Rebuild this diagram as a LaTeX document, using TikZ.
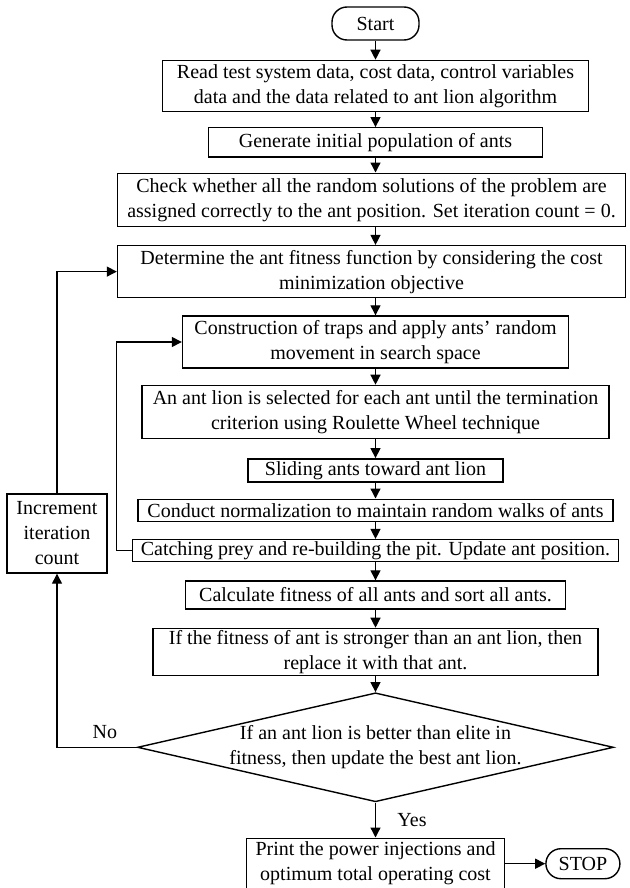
\documentclass[tikz,border=0pt]{standalone}
\usepackage{fontspec}
\setmainfont{Liberation Serif}
\usepackage{tikz}
\usetikzlibrary{shapes.geometric, arrows.meta, positioning}

\begin{document}
\begin{tikzpicture}[x=1pt, y=1pt,
    box/.style={rectangle, draw=black, line width=1.4pt, fill=white, inner xsep=2pt, inner ysep=1pt, align=center, font=\fontsize{20}{25}\selectfont},
    terminal/.style={box, rounded corners=15pt},
    decision/.style={diamond, draw=black, line width=1.4pt, fill=white, inner sep=0pt, minimum width=476pt, minimum height=109pt},
    tag/.style={font=\fontsize{20}{25}\selectfont, align=center},
    arrow/.style={-{Triangle[length=10pt, width=10pt]}, line width=1.3pt, black}
]
\useasboundingbox (0,0) rectangle (629,-888);

% Main column
\node (start)    [terminal, minimum width=87pt, minimum height=33pt] at (375.5,-23.5) {Start};
\node (readdata) [box, below=19pt of start, minimum width=426pt, minimum height=51pt] {Read test system data, cost data, control variables\\data and the data related to ant lion algorithm};
\node (initpop)  [box, below=15pt of readdata, minimum width=334pt, minimum height=29pt] {Generate initial population of ants};
\node (check)    [box, below=15pt of initpop, xshift=-4pt, minimum width=508pt, minimum height=53pt] {Check whether all the random solutions of the problem are\\assigned correctly to the ant position. Set iteration count = 0.};
\node (fitness)  [box, below=18pt of check, minimum width=508pt, minimum height=52pt] {Determine the ant fitness function by considering the cost\\minimization objective};
\node (traps)    [box, below=17pt of fitness, xshift=4pt, minimum width=386pt, minimum height=52pt] {Construction of traps and apply ants' random\\movement in search space};
\node (select)   [box, below=16pt of traps, minimum width=467pt, minimum height=53pt] {An ant lion is selected for each ant until the termination\\criterion using Roulette Wheel technique};
\node (slide)    [box, below=19pt of select, minimum width=255pt, minimum height=23pt] {Sliding ants toward ant lion};
\node (normal)   [box, below=16pt of slide, minimum width=475pt, minimum height=22pt] {Conduct normalization to maintain random walks of ants};
\node (catch)    [box, below=17pt of normal, minimum width=486pt, minimum height=22pt] {Catching prey and re-building the pit. Update ant position.};
\node (calcfit)  [box, below=18pt of catch, minimum width=380pt, minimum height=28pt] {Calculate fitness of all ants and sort all ants.};
\node (replace)  [box, below=18pt of calcfit, minimum width=445pt, minimum height=47pt] {If the fitness of ant is stronger than an ant lion, then\\replace it with that ant.};
\node (decide)   [decision, below=16pt of replace, label={[tag]center:{If an ant lion is better than elite in\\fitness, then update the best ant lion.}}] {};
\node (printres) [box, below=35pt of decide, minimum width=258pt, minimum height=51pt] {Print the power injections and\\optimum total operating cost};
\node (stop)     [terminal, right=40pt of printres, minimum width=74pt, minimum height=30pt] {STOP};

% Iteration counter
\node (incr) [box, minimum width=100pt, minimum height=79pt] at (57,-533.5) {Increment\\iteration\\count};

% Arrows down the column
\draw [arrow] (start.south) -- (start.south |- readdata.north);
\draw [arrow] (readdata.south) -- (readdata.south |- initpop.north);
\draw [arrow] (initpop.south) -- (initpop.south |- check.north);
\draw [arrow] (initpop.south |- check.south) -- (initpop.south |- fitness.north);
\draw [arrow] (traps.north |- fitness.south) -- (traps.north);
\draw [arrow] (traps.south) -- (select.north);
\draw [arrow] (select.south) -- (slide.north);
\draw [arrow] (slide.south) -- (normal.north);
\draw [arrow] (normal.south) -- (catch.north);
\draw [arrow] (catch.south) -- (calcfit.north);
\draw [arrow] (calcfit.south) -- (replace.north);
\draw [arrow] (replace.south) -- (decide.north);
\draw [arrow] (decide.south) -- (printres.north) node[midway, right=18pt, tag] {Yes};
\draw [arrow] (printres.east) -- (stop.west);

% Loops
\draw [arrow] (catch.west) -- ++(-15,0) |- (traps.west);
\draw [arrow] (decide.west) -| (incr.south) node[pos=0.2, above=5pt, tag] {No};
\draw [arrow] (incr.north) |- (fitness.west);

\end{tikzpicture}
\end{document}
